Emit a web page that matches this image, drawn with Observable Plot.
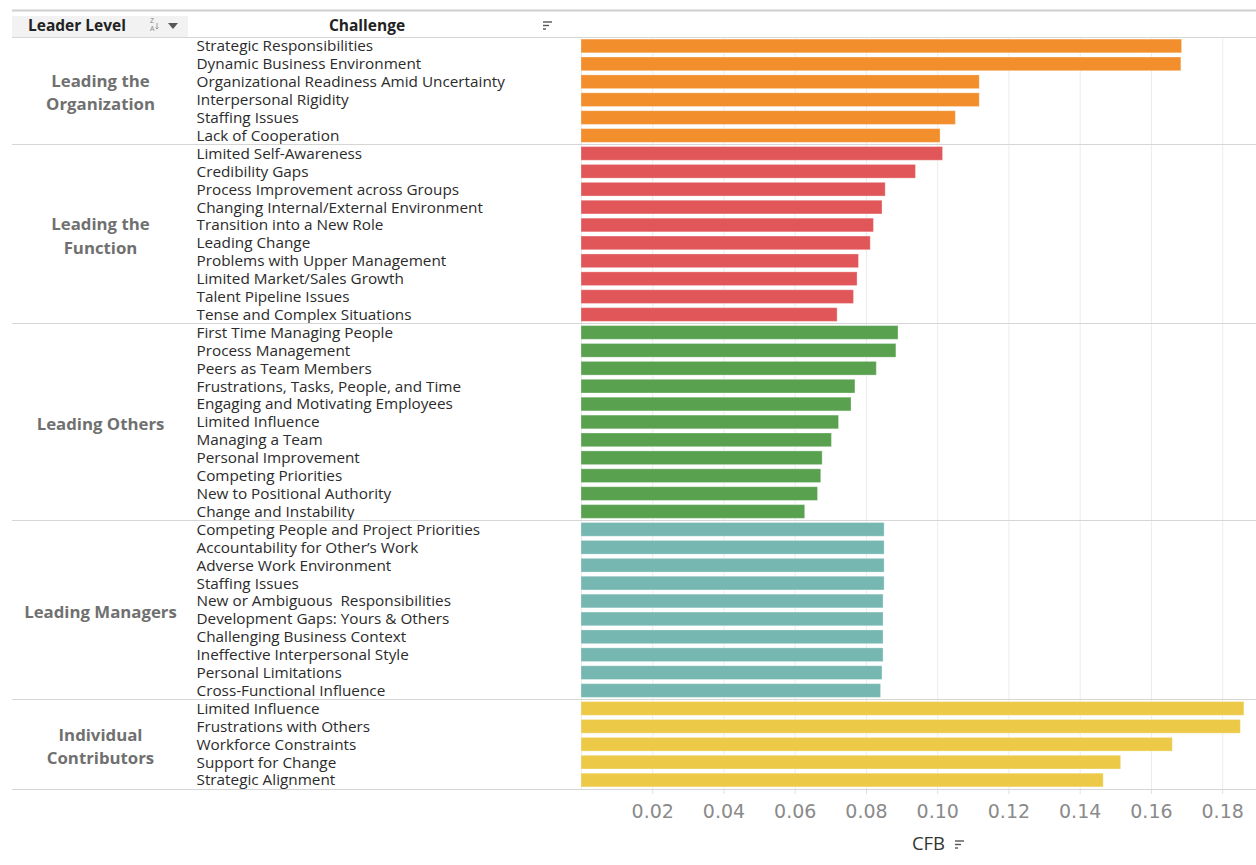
<!DOCTYPE html>
<html><head><meta charset="utf-8">
<script src="https://cdn.jsdelivr.net/npm/d3@7"></script>
<script src="https://cdn.jsdelivr.net/npm/@observablehq/plot@0.6"></script>
<style>
html,body{margin:0;padding:0;background:#fff;}
#chart{position:relative;width:1256px;height:865px;overflow:hidden;}
</style></head><body><div id="chart"></div>
<script>
const leaderLevels = ["Leading the Organization","Leading the Function","Leading Others","Leading Managers","Individual Contributors"];
const levelLabels = ["Leading the\nOrganization","Leading the\nFunction","Leading Others","Leading Managers","Individual\nContributors"];
const levelColors = ["#F28E2B","#E15759","#59A14F","#76B7B2","#EDC948"];

const challenges = [
  "Strategic Responsibilities","Dynamic Business Environment","Organizational Readiness Amid Uncertainty","Interpersonal Rigidity","Staffing Issues","Lack of Cooperation",
  "Limited Self-Awareness","Credibility Gaps","Process Improvement across Groups","Changing Internal/External Environment","Transition into a New Role","Leading Change","Problems with Upper Management","Limited Market/Sales Growth","Talent Pipeline Issues","Tense and Complex Situations",
  "First Time Managing People","Process Management","Peers as Team Members","Frustrations, Tasks, People, and Time","Engaging and Motivating Employees","Limited Influence","Managing a Team","Personal Improvement","Competing Priorities","New to Positional Authority","Change and Instability",
  "Competing People and Project Priorities","Accountability for Other\u2019s Work","Adverse Work Environment","Staffing Issues","New or Ambiguous  Responsibilities","Development Gaps: Yours & Others","Challenging Business Context","Ineffective Interpersonal Style","Personal Limitations","Cross-Functional Influence",
  "Limited Influence","Frustrations with Others","Workforce Constraints","Support for Change","Strategic Alignment"
];
const cfb = [
  0.1686,0.1684,0.1118,0.1118,0.1051,0.1008,
  0.1015,0.0939,0.0854,0.0845,0.0821,0.0812,0.0779,0.0775,0.0765,0.0719,
  0.0890,0.0884,0.0829,0.0769,0.0758,0.0723,0.0703,0.0677,0.0673,0.0664,0.0628,
  0.0851,0.0851,0.0851,0.0851,0.0848,0.0848,0.0848,0.0848,0.0845,0.0841,
  0.1861,0.1851,0.1660,0.1515,0.1466
];
const level = [
  ...Array(6).fill("Leading the Organization"),
  ...Array(10).fill("Leading the Function"),
  ...Array(11).fill("Leading Others"),
  ...Array(10).fill("Leading Managers"),
  ...Array(5).fill("Individual Contributors")
];
const xTicks = [0.02,0.04,0.06,0.08,0.10,0.12,0.14,0.16,0.18];

const W = 1256, H = 865, mL = 581, mT = 37, mB = 76;
const FONT = "'Open Sans', Lato, sans-serif";

const rows = challenges.map((c, i) => ({i, challenge: c, value: cfb[i], level: level[i]}));
const groups = leaderLevels.map((lv, k) => {
  const idx = rows.filter(r => r.level === lv).map(r => r.i);
  return {level: lv, label: levelLabels[k], start: d3.min(idx), end: d3.max(idx) + 1};
});
const boundaries = [0, ...groups.map(g => g.end)];

const chart = Plot.plot({
  width: W, height: H,
  marginLeft: mL, marginRight: 0, marginTop: mT, marginBottom: mB,
  style: {fontFamily: FONT, background: "white", overflow: "visible"},
  x: {domain: [0, 0.1895], axis: null},
  y: {domain: [0, rows.length], reverse: true, axis: null},
  color: {domain: leaderLevels, range: levelColors},
  marks: [
    Plot.gridX([0, ...xTicks], {stroke: "#ececec", strokeOpacity: 1}),
    Plot.rect(rows, {x1: 0, x2: "value", y1: "i", y2: d => d.i + 1, fill: "level",
      insetTop: 2.1, insetBottom: 2.1, stroke: "white", strokeOpacity: 0.3}),
    Plot.text(rows, {y: d => d.i + 0.5, text: "challenge", frameAnchor: "left", dx: 196 - mL,
      textAnchor: "start", fontSize: 15.3, fill: "#2b2b2b"}),
    Plot.text(groups, {y: d => (d.start + d.end) / 2, text: "label", frameAnchor: "left", dx: 100 - mL,
      textAnchor: "middle", fontWeight: "bold", fontSize: 16.8, fill: "#707070", lineHeight: 1.4}),
    Plot.axisX({ticks: xTicks, tickFormat: ".2f", tickSize: 5, tickPadding: 10, fontSize: 19,
      fontFamily: "'DejaVu Sans', sans-serif",
      label: null, stroke: "#e0e0e0", fill: "#8a8a8a"}),
    Plot.text(["CFB"], {frameAnchor: "bottom", dx: 928 - (mL + W) / 2, dy: 60, fontSize: 18.5, fill: "#333"})
  ]
});
document.getElementById("chart").appendChild(chart);

// table decorations: header, separators, sort icons
const svg = d3.select(chart);
const y = chart.scale("y");
const deco = svg.append("g").attr("class", "deco").attr("text-anchor", "start");
deco.append("line").attr("x1", 12).attr("x2", W).attr("y1", 10.5).attr("y2", 10.5)
  .attr("stroke", "#cfcfcf").attr("stroke-width", 2);
deco.append("rect").attr("x", 12).attr("y", 16).attr("width", 176).attr("height", 21).attr("fill", "#f2f2f2");
for (const b of boundaries) {
  const yy = Math.round(y.apply(b)) + 0.5;
  deco.append("line").attr("x1", 12).attr("x2", W).attr("y1", yy).attr("y2", yy)
    .attr("stroke", "#d6d6d6").attr("stroke-width", 1);
}
deco.append("text").attr("x", 28).attr("y", 26).attr("dy", "0.35em").text("Leader Level")
  .attr("font-family", FONT).attr("font-weight", "bold").attr("font-size", 15.5).attr("fill", "#222");
deco.append("text").attr("x", 367).attr("y", 26).attr("dy", "0.35em").attr("text-anchor", "middle").text("Challenge")
  .attr("font-family", FONT).attr("font-weight", "bold").attr("font-size", 15.5).attr("fill", "#222");
// az sort icon
deco.append("text").attr("x", 150).attr("y", 23).attr("font-size", 7).attr("fill", "#888").attr("font-family", FONT).text("Z");
deco.append("text").attr("x", 150).attr("y", 31).attr("font-size", 7).attr("fill", "#888").attr("font-family", FONT).text("A");
deco.append("path").attr("d", "M157 23 v6 M155.5 27.5 l1.5 1.5 l1.5 -1.5").attr("stroke", "#888").attr("fill", "none").attr("stroke-width", 0.8);
deco.append("path").attr("d", "M168 23 h10 l-5 6 z").attr("fill", "#555");
// sort lines icons
function sortIcon(x, yy) {
  [9, 6, 3].forEach((w, k) => {
    deco.append("line").attr("x1", x).attr("x2", x + w).attr("y1", yy + k * 3.5).attr("y2", yy + k * 3.5)
      .attr("stroke", "#555").attr("stroke-width", 1.4);
  });
}
sortIcon(543, 22);
sortIcon(955, 841);
</script></body></html>
